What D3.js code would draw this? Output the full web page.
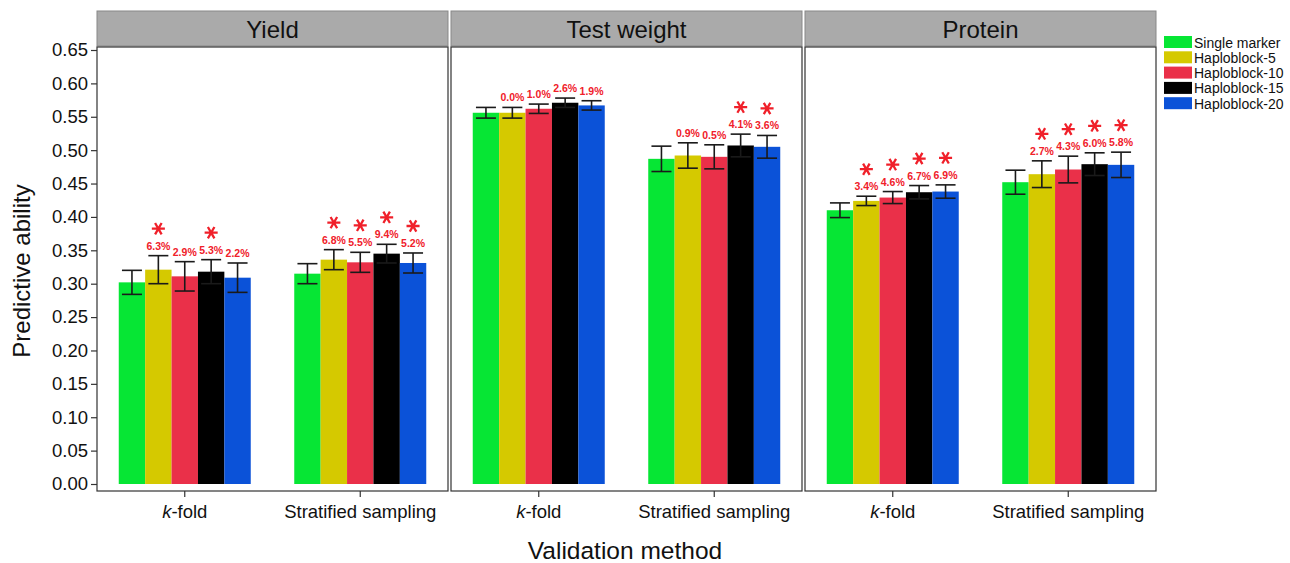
<!DOCTYPE html>
<html>
<head>
<meta charset="utf-8">
<script src="https://cdn.jsdelivr.net/npm/d3@7"></script>
<style>
  body { margin: 0; background: #fff; }
  text { font-family: "Liberation Sans", Arial, sans-serif; }
</style>
</head>
<body>
<div id="chart"></div>
<script>
// data
var traits = ["Yield", "Test weight", "Protein"];
var methods = ["k-fold", "Stratified sampling"];
var models = ["Single marker", "Haploblock-5", "Haploblock-10", "Haploblock-15", "Haploblock-20"];
var colors = ["#06e634", "#d5c900", "#ea3049", "#000000", "#0b52d8"];
var yTicks = [0.00, 0.05, 0.10, 0.15, 0.20, 0.25, 0.30, 0.35, 0.40, 0.45, 0.50, 0.55, 0.60, 0.65];

// [k-fold, stratified] x models
var yieldMean = [[0.302, 0.321, 0.311, 0.318, 0.309], [0.315, 0.336, 0.332, 0.345, 0.331]];
var yieldErr  = [[0.018, 0.021, 0.022, 0.018, 0.022], [0.015, 0.015, 0.015, 0.014, 0.015]];
var yieldPct  = [[null, "6.3%", "2.9%", "5.3%", "2.2%"], [null, "6.8%", "5.5%", "9.4%", "5.2%"]];
var yieldSig  = [[0, 1, 0, 1, 0], [0, 1, 1, 1, 1]];

var twMean = [[0.556, 0.556, 0.562, 0.571, 0.567], [0.487, 0.492, 0.490, 0.507, 0.505]];
var twErr  = [[0.008, 0.008, 0.007, 0.007, 0.007], [0.019, 0.019, 0.018, 0.017, 0.017]];
var twPct  = [[null, "0.0%", "1.0%", "2.6%", "1.9%"], [null, "0.9%", "0.5%", "4.1%", "3.6%"]];
var twSig  = [[0, 0, 0, 0, 0], [0, 0, 0, 1, 1]];

var protMean = [[0.410, 0.424, 0.429, 0.437, 0.438], [0.452, 0.464, 0.471, 0.479, 0.478]];
var protErr  = [[0.011, 0.007, 0.009, 0.010, 0.010], [0.018, 0.020, 0.020, 0.017, 0.019]];
var protPct  = [[null, "3.4%", "4.6%", "6.7%", "6.9%"], [null, "2.7%", "4.3%", "6.0%", "5.8%"]];
var protSig  = [[0, 1, 1, 1, 1], [0, 1, 1, 1, 1]];

var panels = [
  {name: traits[0], mean: yieldMean, err: yieldErr, pct: yieldPct, sig: yieldSig},
  {name: traits[1], mean: twMean, err: twErr, pct: twPct, sig: twSig},
  {name: traits[2], mean: protMean, err: protErr, pct: protPct, sig: protSig}
];

var width = 1290, height = 563;
var panelLeft = [97, 451, 805];
var panelW = 351;
var panelTop = 47, panelBottom = 491;
var stripTop = 11;

var svg = d3.select("#chart").append("svg")
  .attr("width", width)
  .attr("height", height);

var y = d3.scaleLinear().domain([0, 0.65]).range([484, 50]);

var x0 = d3.scalePoint().domain(methods).range([0, panelW]).padding(0.5);
var x1 = d3.scaleBand().domain(models).range([-66, 66]);

// significance asterisk drawn as a symbol
var star = d3.symbol().type(d3.symbolAsterisk).size(120);

panels.forEach(function(p, pi) {
  var g = svg.append("g").attr("transform", "translate(" + panelLeft[pi] + ",0)");

  // strip
  g.append("rect")
    .attr("x", 0).attr("y", stripTop)
    .attr("width", panelW).attr("height", panelTop - stripTop - 1)
    .attr("fill", "#aaaaaa").attr("stroke", "#888").attr("stroke-width", 1);
  g.append("text")
    .attr("x", panelW / 2).attr("y", 38)
    .attr("text-anchor", "middle")
    .attr("font-size", 24).attr("fill", "#111")
    .text(p.name);

  // bars per method
  methods.forEach(function(m, mi) {
    var mg = g.append("g").attr("transform", "translate(" + x0(m) + ",0)");
    var rows = models.map(function(md, k) {
      return {model: md, k: k, v: p.mean[mi][k], e: p.err[mi][k], pct: p.pct[mi][k], sig: p.sig[mi][k]};
    });

    mg.selectAll("rect.bar").data(rows).enter().append("rect")
      .attr("class", "bar")
      .attr("x", function(d) { return x1(d.model); })
      .attr("width", x1.bandwidth())
      .attr("y", function(d) { return y(d.v); })
      .attr("height", function(d) { return y(0) - y(d.v); })
      .attr("fill", function(d) { return colors[d.k]; });

    var eb = mg.selectAll("g.err").data(rows).enter().append("g")
      .attr("class", "err")
      .attr("stroke", "#1a1a1a").attr("stroke-width", 1.6);
    var cx = function(d) { return x1(d.model) + x1.bandwidth() / 2; };
    eb.append("line")
      .attr("x1", cx).attr("x2", cx)
      .attr("y1", function(d) { return y(d.v + d.e); })
      .attr("y2", function(d) { return y(d.v - d.e); });
    eb.append("line")
      .attr("x1", function(d) { return cx(d) - 10; }).attr("x2", function(d) { return cx(d) + 10; })
      .attr("y1", function(d) { return y(d.v + d.e); })
      .attr("y2", function(d) { return y(d.v + d.e); });
    eb.append("line")
      .attr("x1", function(d) { return cx(d) - 10; }).attr("x2", function(d) { return cx(d) + 10; })
      .attr("y1", function(d) { return y(d.v - d.e); })
      .attr("y2", function(d) { return y(d.v - d.e); });

    var labeled = rows.filter(function(d) { return d.pct; });
    mg.selectAll("text.pct").data(labeled).enter().append("text")
      .attr("class", "pct")
      .attr("x", cx)
      .attr("y", function(d) { return y(d.v + d.e) - 6; })
      .attr("text-anchor", "middle")
      .attr("font-size", 10.5).attr("font-weight", "bold")
      .attr("fill", "#f0202a")
      .text(function(d) { return d.pct; });

    mg.selectAll("path.star").data(rows.filter(function(d) { return d.sig; })).enter().append("path")
      .attr("class", "star")
      .attr("d", star)
      .attr("transform", function(d) { return "translate(" + cx(d) + "," + (y(d.v + d.e) - 27) + ") rotate(90)"; })
      .attr("fill", "none")
      .attr("stroke", "#f0202a").attr("stroke-width", 2.3);

    // x tick + label
    g.append("line")
      .attr("x1", x0(m)).attr("x2", x0(m))
      .attr("y1", panelBottom).attr("y2", panelBottom + 6)
      .attr("stroke", "#333").attr("stroke-width", 1.2);
    var t = g.append("text")
      .attr("x", x0(m)).attr("y", 518)
      .attr("text-anchor", "middle")
      .attr("font-size", 18.5).attr("fill", "#111");
    if (m === "k-fold") {
      t.append("tspan").attr("font-style", "italic").text("k");
      t.append("tspan").text("-fold");
    } else {
      t.text(m);
    }
  });

  // panel frame
  g.append("rect")
    .attr("x", 0).attr("y", panelTop)
    .attr("width", panelW).attr("height", panelBottom - panelTop)
    .attr("fill", "none").attr("stroke", "#333").attr("stroke-width", 1.2);
});

// y axis on first panel
var yAxis = d3.axisLeft(y).tickValues(yTicks).tickFormat(d3.format(".2f")).tickSize(6).tickSizeOuter(0);
var ya = svg.append("g").attr("transform", "translate(" + panelLeft[0] + ",0)").call(yAxis);
ya.select(".domain").remove();
ya.selectAll("line").attr("stroke", "#333").attr("stroke-width", 1.2);
ya.selectAll("text").attr("font-size", 18.5).attr("fill", "#111").attr("x", -9)
  .style("font-family", "Liberation Sans, Arial, sans-serif");

// axis titles
svg.append("text")
  .attr("transform", "translate(30," + 271 + ") rotate(-90)")
  .attr("text-anchor", "middle")
  .attr("font-size", 24).attr("fill", "#111")
  .text("Predictive ability");
svg.append("text")
  .attr("x", 625).attr("y", 559)
  .attr("text-anchor", "middle")
  .attr("font-size", 24.5).attr("fill", "#111")
  .text("Validation method");

// legend
var lg = svg.append("g").attr("transform", "translate(1164,36)");
var li = lg.selectAll("g").data(models).enter().append("g")
  .attr("transform", function(d, i) { return "translate(0," + i * 15.3 + ")"; });
li.append("rect").attr("width", 28).attr("height", 12)
  .attr("fill", function(d, i) { return colors[i]; });
li.append("text").attr("x", 30).attr("y", 11.5)
  .attr("font-size", 14).attr("fill", "#111")
  .text(function(d) { return d; });
</script>
</body>
</html>
